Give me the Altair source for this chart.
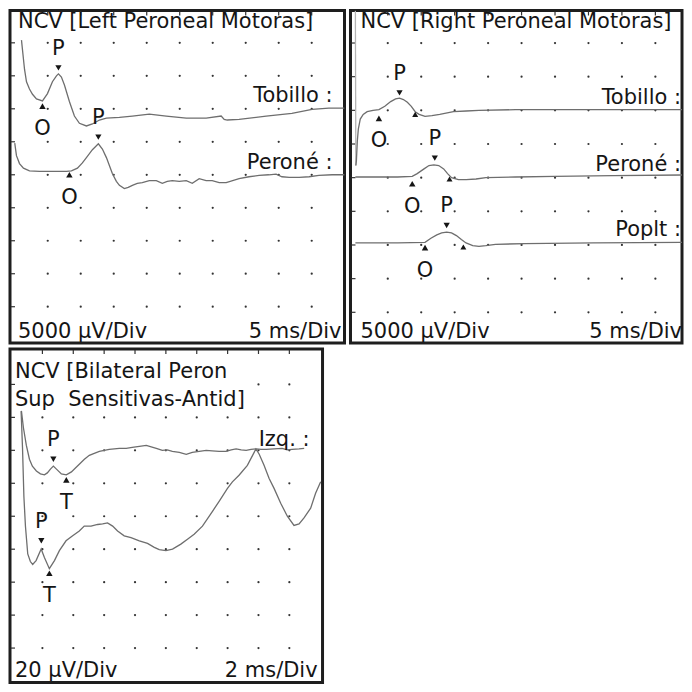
import altair as alt
import pandas as pd

FONT = "DejaVu Sans"
TRACE = "#6e6e6e"
INK = "#151515"
FS = 21

# ---------------- Panel A: Left Peroneal Motoras (x: ms, y: mV) ----------------
A_tob_t = [1.02, 1.48, 1.78, 2.23, 2.69, 3.29, 4.2, 4.96, 5.71, 6.32, 6.62, 7.07, 7.53, 8.28, 9.04, 9.8,
           10.86, 11.77, 12.83, 13.89, 15.86, 17.82, 20.39, 22.96, 25.99, 29.01, 31.28, 31.74, 32.2, 34.0,
           38.1, 42.0, 45.05, 47.6, 50.0]
A_tob_v = [45.4, 41.0, 39.1, 38.0, 37.2, 36.5, 36.2, 37.3, 39.1, 40.0, 40.3, 39.8, 38.6, 36.1, 33.9, 32.8,
           32.4, 32.7, 33.3, 33.6, 33.7, 33.9, 34.2, 33.9, 33.6, 33.6, 33.9, 33.4, 33.3, 33.4,
           33.9, 34.3, 34.9, 35.1, 35.1]
A_per_t = [0.0, 0.26, 0.72, 1.32, 2.23, 3.75, 6.02, 7.83, 8.59, 9.5, 10.25, 10.86, 11.77, 12.67, 13.28,
           13.89, 14.34, 14.79, 15.4, 15.86, 16.61, 17.2, 17.82, 18.57, 19.33, 20.39, 21.45, 22.36, 23.11,
           23.87, 24.93, 25.99, 26.9, 27.95, 29.0, 29.92, 30.98, 32.04, 34.0, 35.5, 37.03, 38.5, 39.6,
           40.5, 41.6, 43.1, 44.6, 46.1, 48.1, 50.0]
A_per_v = [29.8, 27.9, 26.7, 26.0, 25.6, 25.5, 25.5, 25.5, 25.6, 26.0, 26.8, 27.6, 28.8, 29.7, 28.9,
           27.6, 26.4, 25.2, 24.0, 23.4, 22.9, 23.1, 23.4, 23.7, 23.8, 24.1, 24.1, 23.7, 24.0,
           24.1, 24.0, 24.1, 23.7, 24.4, 24.1, 24.1, 23.8, 23.8, 24.4, 24.7, 24.9, 25.0, 25.1,
           24.7, 24.6, 24.6, 24.7, 24.9, 25.0, 25.0]
A_mark_t = [4.2, 6.62, 8.28, 12.67]
A_mark_v = [35.4, 41.2, 25.0, 30.7]
A_mark_kind = ["up", "down", "up", "down"]
A_mark_txt = ["O", "P", "O", "P"]
A_labels = ["Tobillo :", "Peroné :"]
A_label_v = [37.0, 26.8]

# ---------------- Panel B: Right Peroneal Motoras (x: ms, y: mV) ----------------
B_art_t = [0.16, 0.23]
B_art_v = [49.8, 26.8]
B_tob_t = [0.23, 0.31, 0.45, 0.6, 0.89, 1.33, 1.92, 2.8, 3.68, 4.56, 5.44, 6.17, 6.76, 7.34, 7.93,
           8.52, 9.1, 9.69, 10.57, 11.6, 12.77, 14.82, 16.73, 18.63, 24.1, 29.9, 35.8, 43.1, 49.3]
B_tob_v = [26.8, 27.5, 30.4, 32.2, 33.7, 34.4, 34.8, 35.0, 35.1, 35.6, 36.3, 36.7, 36.8, 36.6, 36.2,
           35.6, 34.8, 34.4, 34.1, 34.2, 34.4, 34.8, 34.9, 35.0, 35.1, 35.1, 35.1, 35.1, 35.1]
B_per_t = [0.16, 3.53, 6.46, 8.66, 9.4, 10.42, 11.16, 11.89, 12.62, 13.36, 13.94, 14.53, 15.56, 16.73,
           18.2, 19.66, 24.1, 29.9, 38.7, 49.3]
B_per_v = [25.1, 25.1, 25.1, 25.2, 25.6, 26.3, 26.8, 26.9, 26.8, 26.3, 25.6, 25.0, 24.7, 24.7,
           24.8, 25.0, 25.1, 25.2, 25.3, 25.4]
B_pop_t = [0.16, 6.46, 10.57, 11.45, 12.33, 13.06, 13.8, 14.53, 15.26, 16.0, 16.7, 17.7, 18.63, 19.66,
           21.1, 25.5, 35.8, 49.3]
B_pop_v = [15.3, 15.3, 15.4, 16.0, 16.5, 16.8, 16.9, 16.8, 16.4, 15.8, 15.3, 14.9, 14.8, 14.9,
           15.1, 15.2, 15.3, 15.4]
B_mark_t = [3.68, 6.76, 9.1, 8.66, 12.03, 14.23, 10.57, 13.8, 16.3]
B_mark_v = [33.8, 37.6, 34.4, 24.1, 27.9, 24.8, 14.6, 17.9, 14.7]
B_mark_kind = ["up", "down", "end", "up", "down", "end", "up", "down", "end"]
B_mark_txt = ["O", "P", "", "O", "P", "", "O", "P", ""]
B_labels = ["Tobillo :", "Peroné :", "Poplt :"]
B_label_v = [36.8, 26.9, 17.2]

# ---------------- Panel C: Bilateral Peron Sup Sensitivas-Antid (x: ms, y: µV) ----------------
C_izq_t = [0.64, 0.77, 0.96, 1.16, 1.35, 1.61, 1.87, 2.13, 2.32, 2.52, 2.71, 2.91, 3.23, 3.55, 3.88, 4.14,
           4.39, 4.72, 5.04, 5.36, 5.69, 6.01, 6.33, 6.66, 6.98, 7.43, 7.82, 8.28, 8.73, 9.05, 9.38, 9.77,
           10.09, 10.42, 10.87, 11.32, 11.71, 12.16, 12.61, 13.0, 13.45, 13.9, 14.23, 14.55, 14.88, 15.2,
           15.52, 15.85, 16.17, 16.5, 17.01, 17.53, 17.86, 18.18, 18.63, 18.96]
C_izq_v = [163.9, 153.7, 143.0, 134.6, 130.4, 127.5, 125.7, 125.1, 126.3, 128.6, 130.4, 128.6, 125.7, 125.1,
           126.9, 129.3, 131.6, 134.6, 137.0, 138.2, 139.4, 140.0, 140.6, 140.9, 141.2, 141.2, 141.8, 142.4,
           143.0, 142.1, 141.2, 140.0, 140.3, 139.4, 138.8, 137.6, 138.8, 139.4, 140.0, 139.7, 139.4, 139.4,
           140.3, 140.9, 140.3, 140.0, 140.6, 140.9, 140.6, 140.6, 140.9, 141.2, 140.3, 140.6, 140.9, 141.2]
C_der_t = [0.62, 0.71, 0.80, 0.90, 1.05, 1.22, 1.37, 1.59, 1.92, 2.13, 2.45, 2.78, 3.10, 3.53, 3.96, 4.39,
           4.71, 5.15, 5.58, 5.90, 6.22, 6.55, 6.87, 7.30, 7.74, 8.28, 8.81, 9.25, 9.57, 10.0, 10.43, 10.97,
           11.40, 11.83, 12.37, 13.02, 13.45, 13.99, 14.31, 14.74, 15.28, 15.61, 15.83, 16.04, 16.36, 16.69,
           17.01, 17.44, 17.87, 18.30, 18.63, 18.95, 19.38, 19.70, 20.03]
C_der_v = [163.7, 141.8, 112.0, 94.1, 77.1, 72.5, 70.7, 73.1, 80.1, 74.9, 68.2, 73.1, 79.1, 85.1, 88.1, 91.0,
           94.0, 94.0, 95.0, 95.4, 96.0, 94.0, 91.0, 88.1, 87.0, 85.1, 83.5, 81.1, 79.7, 79.1, 80.1, 83.1,
           86.1, 89.1, 94.0, 103.0, 109.0, 116.9, 120.9, 124.9, 130.9, 136.8, 140.8, 137.8, 130.9, 122.9,
           116.9, 107.9, 100.0, 94.4, 95.4, 99.0, 104.9, 113.9, 120.9]
C_mark_t = [2.71, 3.55, 1.93, 2.45]
C_mark_v = [134.6, 122.1, 85.1, 65.4]
C_mark_kind = ["down", "up", "down", "up"]
C_mark_txt = ["P", "T", "P", "T"]
C_labels = ["Izq. :"]
C_label_v = [146.0]


def traces_df(pairs):
    rows = []
    for name, ts, vs, shade in pairs:
        for i, (t, v) in enumerate(zip(ts, vs)):
            rows.append({"trace": name, "i": i, "t": t, "v": v, "shade": shade})
    return pd.DataFrame(rows)


def marks_df(ts, vs, kinds, txts):
    return pd.DataFrame({"t": ts, "v": vs, "kind": kinds, "txt": txts})


def grid_df(xs, ys, skip=None):
    rows = []
    for y in ys:
        for x in xs:
            if skip and skip(x, y):
                continue
            rows.append({"t": x, "v": y})
    return pd.DataFrame(rows)


def panel(w, h, xdom, ydom, xdots, ydots, tr, mk, labels, label_v, label_x,
          title, title_x, title_y, left_txt, right_txt, bottom_y, left_x, right_x, skip=None):
    xs = alt.Scale(domain=xdom, nice=False, zero=False)
    ys = alt.Scale(domain=ydom, nice=False, zero=False)
    X = alt.X("t:Q", scale=xs, axis=None)
    Y = alt.Y("v:Q", scale=ys, axis=None)
    dots = alt.Chart(grid_df(xdots, ydots, skip)).mark_circle(size=5, color="#333", opacity=1).encode(x=X, y=Y)
    top_ticks = alt.Chart(pd.DataFrame({"t": xdots})).mark_rule(color="#333", strokeWidth=1.2).encode(
        x=X, y=alt.value(1), y2=alt.value(5))
    left_ticks = alt.Chart(pd.DataFrame({"v": ydots})).mark_rule(color="#333", strokeWidth=1.2).encode(
        y=Y, x=alt.value(1), x2=alt.value(5))
    lines = alt.Chart(tr).mark_line(strokeWidth=1.3, clip=True).encode(
        x=X, y=Y,
        color=alt.Color("shade:N", scale=alt.Scale(domain=["main", "artifact"], range=[TRACE, "#b4b4b4"]),
                        legend=None),
        detail="trace:N",
        order="i:Q",
    )
    tri = alt.Chart(mk).mark_point(filled=True, color=INK, opacity=1).encode(
        x=X, y=Y,
        shape=alt.Shape("kind:N", scale=alt.Scale(domain=["up", "down", "end"],
                                                  range=["triangle-up", "triangle-down", "triangle-up"]),
                        legend=None),
        size=alt.Size("kind:N", scale=alt.Scale(domain=["up", "down", "end"], range=[42, 36, 22]),
                      legend=None),
    )
    above = alt.Chart(mk).transform_filter("datum.kind == 'down'").mark_text(
        font=FONT, fontSize=FS, color=INK, dy=-19, baseline="middle").encode(x=X, y=Y, text="txt:N")
    below = alt.Chart(mk).transform_filter("datum.kind == 'up'").mark_text(
        font=FONT, fontSize=FS, color=INK, dy=23, baseline="middle").encode(x=X, y=Y, text="txt:N")
    labs = alt.Chart(pd.DataFrame({"txt": labels, "v": label_v})).mark_text(
        font=FONT, fontSize=FS, color=INK, align="right", baseline="middle").encode(
        x=alt.value(label_x), y=Y, text="txt:N")
    ttl = alt.Chart(pd.DataFrame({"txt": [title]})).mark_text(
        font=FONT, fontSize=FS, color=INK, align="left", baseline="top", lineBreak="\n",
        lineHeight=28).encode(x=alt.value(title_x), y=alt.value(title_y), text="txt:N")
    bl = alt.Chart(pd.DataFrame({"txt": [left_txt]})).mark_text(
        font=FONT, fontSize=FS, color=INK, align="left", baseline="middle").encode(
        x=alt.value(left_x), y=alt.value(bottom_y), text="txt:N")
    br = alt.Chart(pd.DataFrame({"txt": [right_txt]})).mark_text(
        font=FONT, fontSize=FS, color=INK, align="right", baseline="middle").encode(
        x=alt.value(right_x), y=alt.value(bottom_y), text="txt:N")
    return alt.layer(dots, top_ticks, left_ticks, lines, tri, above, below, labs, ttl, bl, br).properties(
        width=w, height=h)


A = panel(335, 333, [-0.72, 49.97], [-0.5, 49.9], [5, 10, 15, 20, 25, 30, 35, 40, 45],
          [5, 10, 15, 20, 25, 30, 35, 40, 45],
          traces_df([("Tobillo", A_tob_t, A_tob_v, "main"), ("Peroné", A_per_t, A_per_v, "main")]),
          marks_df(A_mark_t, A_mark_v, A_mark_kind, A_mark_txt),
          A_labels, A_label_v, 323,
          "NCV [Left Peroneal Motoras]", 8, 1, "5000 µV/Div", "5 ms/Div", 322, 8, 332)

B = panel(332, 333, [-0.57, 48.98], [0.44, 49.83], [5, 10, 15, 20, 25, 30, 35, 40, 45],
          [5, 10, 15, 20, 25, 30, 35, 40, 45],
          traces_df([("Artefacto", B_art_t, B_art_v, "artifact"), ("Tobillo", B_tob_t, B_tob_v, "main"),
                     ("Peroné", B_per_t, B_per_v, "main"), ("Poplt", B_pop_t, B_pop_v, "main")]),
          marks_df(B_mark_t, B_mark_v, B_mark_kind, B_mark_txt),
          B_labels, B_label_v, 331,
          "NCV [Right Peroneal Motoras]", 10, 1, "5000 µV/Div", "5 ms/Div", 322, 10, 332)

C = panel(313, 334, [-0.10, 20.15], [-0.9, 201.5], [2, 4, 6, 8, 10, 12, 14, 16, 18],
          [20, 40, 60, 80, 100, 120, 140, 160, 180],
          traces_df([("Izq", C_izq_t, C_izq_v, "main"), ("Der", C_der_t, C_der_v, "main")]),
          marks_df(C_mark_t, C_mark_v, C_mark_kind, C_mark_txt),
          C_labels, C_label_v, 300,
          "NCV [Bilateral Peron\nSup\u00a0 Sensitivas-Antid]", 5, 12, "20 µV/Div", "2 ms/Div", 322, 5, 308,
          skip=lambda x, y: y == 180 and x < 15)

chart = alt.concat(A, B, C, columns=2, spacing=6, bounds="flush").properties(
    padding=0
).configure(background="white").configure_view(stroke="#1e1e1e", strokeWidth=3)

chart.save("out.html", embed_options={"renderer": "svg", "actions": False})
